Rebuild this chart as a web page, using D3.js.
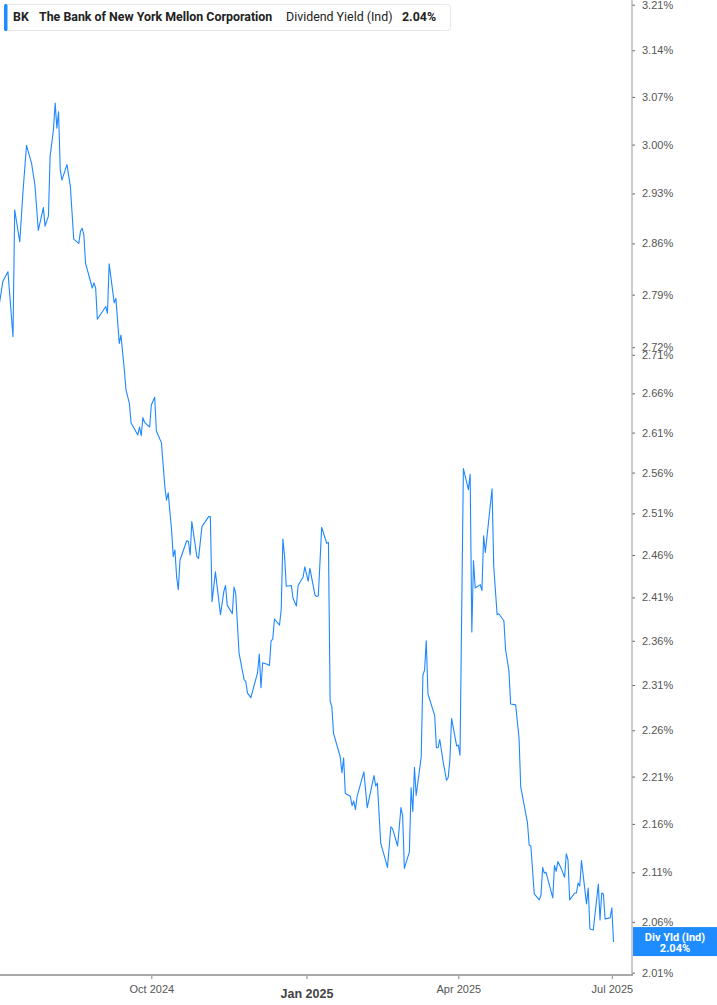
<!DOCTYPE html>
<html>
<head>
<meta charset="utf-8">
<script src="https://cdn.jsdelivr.net/npm/d3@7"></script>
<style>
  body { margin: 0; background: #fff; }
  svg { display: block; font-family: Roboto, 'Noto Sans', sans-serif; }
</style>
</head>
<body>
<svg id="chart"></svg>
<script>
const dates = [
  '2024-07-03', '2024-07-05', '2024-07-08', '2024-07-11', '2024-07-12', '2024-07-15', '2024-07-17', '2024-07-19',
  '2024-07-22', '2024-07-24', '2024-07-26', '2024-07-29', '2024-07-30', '2024-08-01', '2024-08-02', '2024-08-04',
  '2024-08-05', '2024-08-06', '2024-08-07', '2024-08-08', '2024-08-09', '2024-08-12', '2024-08-14', '2024-08-16',
  '2024-08-19', '2024-08-20', '2024-08-21', '2024-08-22', '2024-08-23', '2024-08-27', '2024-08-28', '2024-08-29',
  '2024-08-30', '2024-09-04', '2024-09-05', '2024-09-06', '2024-09-09', '2024-09-10', '2024-09-12', '2024-09-13',
  '2024-09-15', '2024-09-16', '2024-09-18', '2024-09-19', '2024-09-23', '2024-09-24', '2024-09-25', '2024-09-26',
  '2024-09-27', '2024-09-30', '2024-10-01', '2024-10-03', '2024-10-04', '2024-10-07', '2024-10-09', '2024-10-10',
  '2024-10-11', '2024-10-13', '2024-10-14', '2024-10-15', '2024-10-16', '2024-10-17', '2024-10-18', '2024-10-22',
  '2024-10-23', '2024-10-24', '2024-10-25', '2024-10-28', '2024-10-29', '2024-10-31', '2024-11-04', '2024-11-05',
  '2024-11-06', '2024-11-08', '2024-11-11', '2024-11-13', '2024-11-14', '2024-11-15', '2024-11-18', '2024-11-19',
  '2024-11-20', '2024-11-22', '2024-11-25', '2024-11-26', '2024-11-27', '2024-11-29', '2024-12-03', '2024-12-04',
  '2024-12-05', '2024-12-06', '2024-12-09', '2024-12-10', '2024-12-11', '2024-12-12', '2024-12-13', '2024-12-16',
  '2024-12-17', '2024-12-18', '2024-12-19', '2024-12-20', '2024-12-23', '2024-12-24', '2024-12-26', '2024-12-27',
  '2024-12-30', '2024-12-31', '2025-01-02', '2025-01-03', '2025-01-06', '2025-01-07', '2025-01-08', '2025-01-10',
  '2025-01-13', '2025-01-14', '2025-01-15', '2025-01-16', '2025-01-17', '2025-01-21', '2025-01-22', '2025-01-23',
  '2025-01-24', '2025-01-27', '2025-01-28', '2025-01-29', '2025-01-30', '2025-01-31', '2025-02-04', '2025-02-06',
  '2025-02-10', '2025-02-11', '2025-02-12', '2025-02-14', '2025-02-18', '2025-02-20', '2025-02-21', '2025-02-24',
  '2025-02-26', '2025-02-27', '2025-02-28', '2025-03-03', '2025-03-04', '2025-03-05', '2025-03-06', '2025-03-07',
  '2025-03-10', '2025-03-11', '2025-03-12', '2025-03-13', '2025-03-14', '2025-03-18', '2025-03-19', '2025-03-20',
  '2025-03-21', '2025-03-23', '2025-03-25', '2025-03-26', '2025-03-27', '2025-03-28', '2025-03-31', '2025-04-01',
  '2025-04-02', '2025-04-04', '2025-04-07', '2025-04-08', '2025-04-09', '2025-04-10', '2025-04-11', '2025-04-14',
  '2025-04-15', '2025-04-16', '2025-04-17', '2025-04-21', '2025-04-22', '2025-04-24', '2025-04-25', '2025-04-28',
  '2025-04-29', '2025-05-01', '2025-05-02', '2025-05-05', '2025-05-07', '2025-05-08', '2025-05-12', '2025-05-13',
  '2025-05-14', '2025-05-16', '2025-05-19', '2025-05-20', '2025-05-21', '2025-05-22', '2025-05-23', '2025-05-27',
  '2025-05-28', '2025-05-29', '2025-05-30', '2025-06-01', '2025-06-03', '2025-06-04', '2025-06-05', '2025-06-06',
  '2025-06-09', '2025-06-10', '2025-06-11', '2025-06-12', '2025-06-13', '2025-06-16', '2025-06-17', '2025-06-18',
  '2025-06-20', '2025-06-23', '2025-06-24', '2025-06-25', '2025-06-26', '2025-06-27', '2025-06-30', '2025-07-01',
  '2025-07-02',
];

// dividend yield (indicated), percent
const yields = [
  2.779, 2.808, 2.821, 2.734, 2.907, 2.862, 2.935, 2.999,
  2.973, 2.942, 2.878, 2.910, 2.884, 2.898, 2.983, 3.022,
  3.061, 3.024, 3.048, 2.964, 2.949, 2.971, 2.940, 2.866,
  2.860, 2.877, 2.881, 2.872, 2.833, 2.799, 2.806, 2.799,
  2.757, 2.774, 2.765, 2.832, 2.779, 2.785, 2.725, 2.736,
  2.690, 2.664, 2.647, 2.622, 2.607, 2.617, 2.606, 2.629,
  2.623, 2.617, 2.645, 2.655, 2.612, 2.597, 2.543, 2.526,
  2.535, 2.490, 2.458, 2.466, 2.434, 2.419, 2.454, 2.477,
  2.476, 2.460, 2.500, 2.458, 2.456, 2.494, 2.506, 2.506,
  2.405, 2.440, 2.390, 2.417, 2.424, 2.401, 2.391, 2.422,
  2.415, 2.346, 2.316, 2.314, 2.301, 2.296, 2.324, 2.345,
  2.307, 2.335, 2.333, 2.332, 2.360, 2.362, 2.385, 2.378,
  2.396, 2.479, 2.458, 2.423, 2.424, 2.409, 2.400, 2.424,
  2.434, 2.446, 2.429, 2.444, 2.413, 2.411, 2.412, 2.493,
  2.474, 2.475, 2.292, 2.286, 2.257, 2.231, 2.214, 2.230,
  2.192, 2.189, 2.179, 2.184, 2.175, 2.189, 2.215, 2.177,
  2.211, 2.200, 2.203, 2.140, 2.115, 2.157, 2.155, 2.137,
  2.177, 2.168, 2.114, 2.131, 2.198, 2.173, 2.220, 2.190,
  2.231, 2.321, 2.327, 2.360, 2.300, 2.276, 2.241, 2.241,
  2.250, 2.226, 2.206, 2.209, 2.228, 2.273, 2.243, 2.244,
  2.233, 2.565, 2.539, 2.558, 2.370, 2.453, 2.421, 2.425,
  2.418, 2.483, 2.463, 2.540, 2.446, 2.390, 2.391, 2.383,
  2.350, 2.326, 2.289, 2.288, 2.251, 2.199, 2.161, 2.138,
  2.137, 2.088, 2.082, 2.087, 2.115, 2.109, 2.110, 2.084,
  2.117, 2.111, 2.121, 2.114, 2.105, 2.129, 2.123, 2.082,
  2.089, 2.089, 2.099, 2.096, 2.122, 2.078, 2.094, 2.053,
  2.052, 2.098, 2.062, 2.089, 2.088, 2.063, 2.064, 2.074,
  2.040,
];

const yTicks = [3.21, 3.14, 3.07, 3.00, 2.93, 2.86, 2.79, 2.72, 2.71, 2.66, 2.61, 2.56,
  2.51, 2.46, 2.41, 2.36, 2.31, 2.26, 2.21, 2.16, 2.11, 2.06, 2.01];
const xTicks = ['2024-10-01', '2025-01-01', '2025-04-01', '2025-07-01'];
const yearStart = '2025-01-01';

const ticker = 'BK';
const company = 'The Bank of New York Mellon Corporation';
const metric = 'Dividend Yield (Ind)';
const lastLabel = 'Div Yld (Ind)';

const width = 717,
  height = 1005;
const plotRight = 632,
  plotBottom = 975;

const parseDate = d3.timeParse('%Y-%m-%d');
const series = dates.map((d, i) => ({date: parseDate(d), value: yields[i]}));
const last = series[series.length - 1];

const svg = d3
  .select('#chart')
  .attr('width', width)
  .attr('height', height);

const x = d3
  .scaleTime()
  .domain([new Date(2024, 6, 3, 7), new Date(2025, 6, 12, 23)])
  .range([0, plotRight]);

// the source axis is logarithmic
const y = d3
  .scaleLog()
  .domain([2.01, 3.21])
  .range([972.7, 4.7]);

svg
  .append('defs')
  .append('clipPath')
  .attr('id', 'plot-clip')
  .append('rect')
  .attr('width', plotRight)
  .attr('height', plotBottom);

svg
  .append('path')
  .datum(series)
  .attr('clip-path', 'url(#plot-clip)')
  .attr('fill', 'none')
  .attr('stroke', '#1e88ff')
  .attr('stroke-width', 1.1)
  .attr('stroke-linejoin', 'round')
  .attr('d', d3.line().x((d) => x(d.date)).y((d) => y(d.value)));

// x axis
const xAxis = svg
  .append('g')
  .attr('transform', `translate(0,${plotBottom})`)
  .call(
    d3
      .axisBottom(x)
      .tickValues(xTicks.map(parseDate))
      .tickSizeOuter(0)
      .tickSize(4)
      .tickPadding(6)
      .tickFormat(d3.timeFormat('%b %Y'))
  );
xAxis.select('.domain').remove();
xAxis.selectAll('line').attr('stroke', '#888');
xAxis
  .selectAll('text')
  .attr('fill', '#555')
  .style('font-size', '11px')
  .filter((d) => +d === +parseDate(yearStart))
  .attr('dy', '1.05em')
  .attr('fill', '#444')
  .style('font-size', '12.5px')
  .style('font-weight', 'bold');

// y axis on the right
const yAxis = svg
  .append('g')
  .attr('transform', `translate(${plotRight},0)`)
  .call(
    d3
      .axisRight(y)
      .tickValues(yTicks)
      .tickSize(3)
      .tickPadding(7)
      .tickFormat((d) => d.toFixed(2) + '%')
  );
yAxis.select('.domain').remove();
yAxis.selectAll('line').attr('stroke', '#666');
yAxis
  .selectAll('text')
  .attr('fill', '#555')
  .style('font-size', '11px');

svg
  .append('line')
  .attr('x1', 0)
  .attr('x2', plotRight + 1)
  .attr('y1', plotBottom)
  .attr('y2', plotBottom)
  .attr('stroke', '#a8a8a8')
  .attr('stroke-width', 2);

svg
  .append('line')
  .attr('x1', plotRight)
  .attr('x2', plotRight)
  .attr('y1', 0)
  .attr('y2', plotBottom)
  .attr('stroke', '#a8a8a8')
  .attr('stroke-width', 1.2);

// last value marker on the axis
const tag = svg
  .append('g')
  .attr('transform', `translate(${plotRight + 1},${y(last.value)})`);
tag
  .append('rect')
  .attr('y', -15)
  .attr('width', width - plotRight)
  .attr('height', 29)
  .attr('fill', '#1e8cff');
tag
  .append('text')
  .attr('x', 42)
  .attr('y', -5)
  .attr('dy', '0.35em')
  .attr('text-anchor', 'middle')
  .attr('fill', '#fff')
  .style('font-size', '11px')
  .style('font-weight', 'bold')
  .text(lastLabel);
tag
  .append('text')
  .attr('x', 42)
  .attr('y', 6)
  .attr('dy', '0.35em')
  .attr('text-anchor', 'middle')
  .attr('fill', '#fff')
  .style('font-size', '11px')
  .style('font-weight', 'bold')
  .text(last.value.toFixed(2) + '%');

// header legend
const legend = svg.append('g').attr('transform', 'translate(4,4)');
legend
  .append('rect')
  .attr('x', 0.5)
  .attr('y', 0.5)
  .attr('width', 446)
  .attr('height', 26)
  .attr('rx', 3)
  .attr('fill', '#fff')
  .attr('stroke', '#e8e8e8');
legend
  .append('rect')
  .attr('width', 3.5)
  .attr('height', 27)
  .attr('rx', 1.5)
  .attr('fill', '#1e8cff');

const legendText = legend
  .append('text')
  .attr('y', 13)
  .attr('dy', '0.35em')
  .attr('fill', '#222')
  .style('font-size', '12.4px');
legendText.append('tspan').attr('x', 9).style('font-weight', 'bold').text(ticker);
legendText.append('tspan').attr('x', 35).style('font-weight', 'bold').text(company);
legendText.append('tspan').attr('x', 282).text(metric);
legendText
  .append('tspan')
  .attr('x', 398)
  .style('font-weight', 'bold')
  .text(last.value.toFixed(2) + '%');
</script>
</body>
</html>
